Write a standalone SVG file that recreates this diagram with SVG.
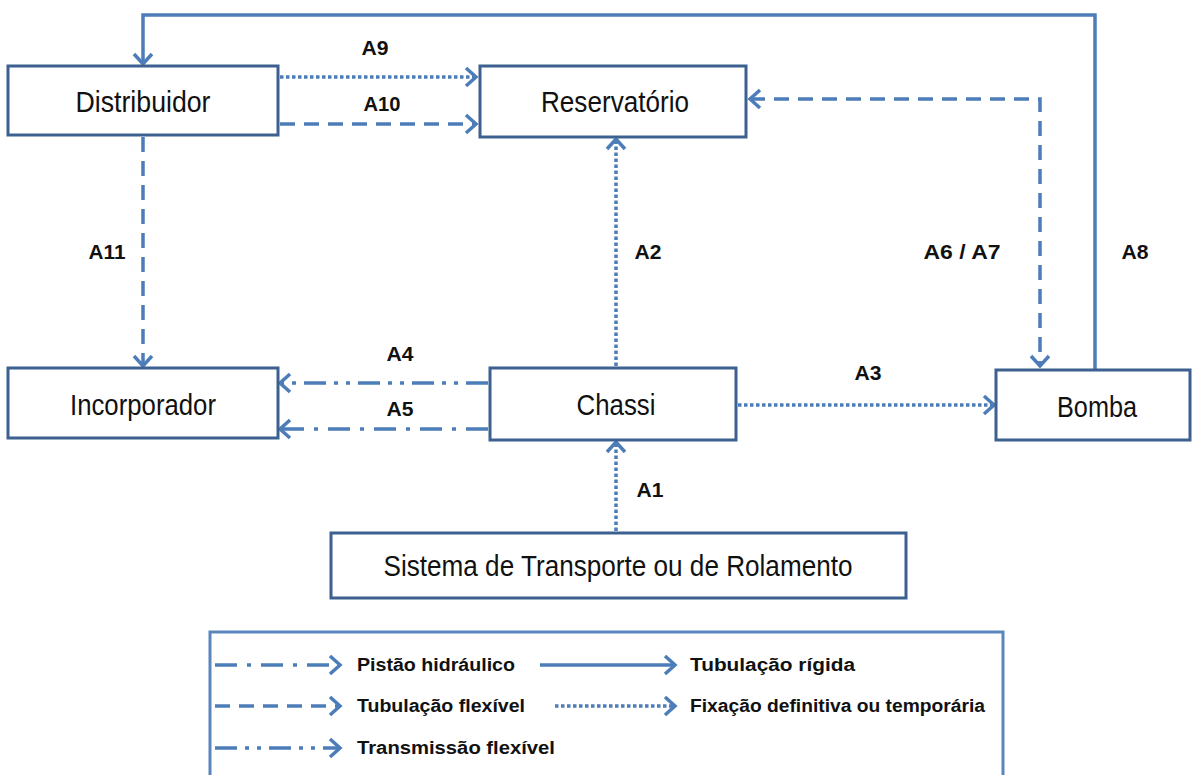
<svg xmlns="http://www.w3.org/2000/svg" width="1192" height="775" viewBox="0 0 1192 775">
<style>
.box{fill:#fff;stroke:#3c6190;stroke-width:3}
.nt{font-family:"Liberation Sans Narrow","Liberation Sans",Arial,sans-serif;font-size:29px;fill:#111;text-anchor:middle;dominant-baseline:central}
.lb{font-family:"Liberation Sans Narrow","Liberation Sans",Arial,sans-serif;font-size:20px;font-weight:bold;fill:#111;text-anchor:middle;dominant-baseline:central}
.lg{font-family:"Liberation Sans Narrow","Liberation Sans",Arial,sans-serif;font-size:18px;font-weight:bold;fill:#111;dominant-baseline:central}
.c{fill:none;stroke:#4d7db8;stroke-width:3.5}
.solid{}
.dash{stroke-dasharray:15 9}
.dot{stroke-dasharray:3.5 2.5}
.dd{stroke-dasharray:22 10 4 10}
.ddd{stroke-dasharray:22 8 4 8 4 8}
</style>
<defs>
<marker id="ar" markerUnits="userSpaceOnUse" markerWidth="20" markerHeight="24" refX="14" refY="12" orient="auto-start-reverse">
<path d="M4,3 L14,12 L4,21" fill="none" stroke="#4d7db8" stroke-width="3.5"/>
</marker>
</defs>
<g id="connectors">
<path class="c solid" d="M1095,370 V15 H143 V64" marker-end="url(#ar)"/>
<path class="c dot" d="M280,77 H476" marker-end="url(#ar)"/>
<path class="c dash" d="M280,124 H476" marker-end="url(#ar)"/>
<path class="c dash" d="M750,99 H1040 V366" marker-start="url(#ar)" marker-end="url(#ar)"/>
<path class="c dash" d="M143,137 V366" marker-end="url(#ar)"/>
<path class="c dot" d="M616,366 V139" marker-end="url(#ar)"/>
<path class="c ddd" d="M488,383 H280" marker-end="url(#ar)"/>
<path class="c dd" d="M488,429 H280" marker-end="url(#ar)"/>
<path class="c dot" d="M738,405 H994" marker-end="url(#ar)"/>
<path class="c dot" d="M616,531 V442" marker-end="url(#ar)"/>
</g>
<g id="labels">
<text class="lb" x="375" y="48" textLength="27" lengthAdjust="spacingAndGlyphs">A9</text>
<text class="lb" x="382" y="104" textLength="37" lengthAdjust="spacingAndGlyphs">A10</text>
<text class="lb" x="107" y="252" textLength="37" lengthAdjust="spacingAndGlyphs">A11</text>
<text class="lb" x="648" y="252" textLength="27" lengthAdjust="spacingAndGlyphs">A2</text>
<text class="lb" x="962" y="252" textLength="77" lengthAdjust="spacingAndGlyphs">A6 / A7</text>
<text class="lb" x="1135" y="252" textLength="27" lengthAdjust="spacingAndGlyphs">A8</text>
<text class="lb" x="400" y="354" textLength="27" lengthAdjust="spacingAndGlyphs">A4</text>
<text class="lb" x="400" y="409" textLength="27" lengthAdjust="spacingAndGlyphs">A5</text>
<text class="lb" x="868" y="373" textLength="27" lengthAdjust="spacingAndGlyphs">A3</text>
<text class="lb" x="650" y="490" textLength="27" lengthAdjust="spacingAndGlyphs">A1</text>
</g>
<g id="distribuidor"><rect class="box" x="8" y="66" width="270" height="69"/><text class="nt" x="143" y="102" textLength="135" lengthAdjust="spacingAndGlyphs">Distribuidor</text></g>
<g id="reservatorio"><rect class="box" x="480" y="66" width="266" height="71"/><text class="nt" x="615" y="102" textLength="148" lengthAdjust="spacingAndGlyphs">Reservatório</text></g>
<g id="incorporador"><rect class="box" x="8" y="368" width="270" height="70"/><text class="nt" x="143" y="405" textLength="146" lengthAdjust="spacingAndGlyphs">Incorporador</text></g>
<g id="chassi"><rect class="box" x="490" y="368" width="246" height="72"/><text class="nt" x="616" y="405" textLength="79" lengthAdjust="spacingAndGlyphs">Chassi</text></g>
<g id="bomba"><rect class="box" x="996" y="370" width="194" height="70"/><text class="nt" x="1097" y="407" textLength="80" lengthAdjust="spacingAndGlyphs">Bomba</text></g>
<g id="sistema"><rect class="box" x="331" y="533" width="575" height="65"/><text class="nt" x="618" y="566" textLength="469" lengthAdjust="spacingAndGlyphs">Sistema de Transporte ou de Rolamento</text></g>
<g id="legend">
<rect x="210" y="632" width="793" height="160" fill="#fff" stroke="#5b86bd" stroke-width="3"/>
<path class="c dd" d="M215,665 H340" marker-end="url(#ar)"/>
<text class="lg" x="357" y="665" textLength="158" lengthAdjust="spacingAndGlyphs">Pistão hidráulico</text>
<path class="c solid" d="M540,665 H675" marker-end="url(#ar)"/>
<text class="lg" x="690" y="665" textLength="165" lengthAdjust="spacingAndGlyphs">Tubulação rígida</text>
<path class="c dash" d="M215,706 H340" marker-end="url(#ar)"/>
<text class="lg" x="357" y="706" textLength="168" lengthAdjust="spacingAndGlyphs">Tubulação flexível</text>
<path class="c dot" d="M555,706 H675" marker-end="url(#ar)"/>
<text class="lg" x="690" y="706" textLength="295" lengthAdjust="spacingAndGlyphs">Fixação definitiva  ou temporária</text>
<path class="c ddd" d="M215,748 H340" marker-end="url(#ar)"/>
<text class="lg" x="357" y="748" textLength="198" lengthAdjust="spacingAndGlyphs">Transmissão flexível</text>
</g>
</svg>
